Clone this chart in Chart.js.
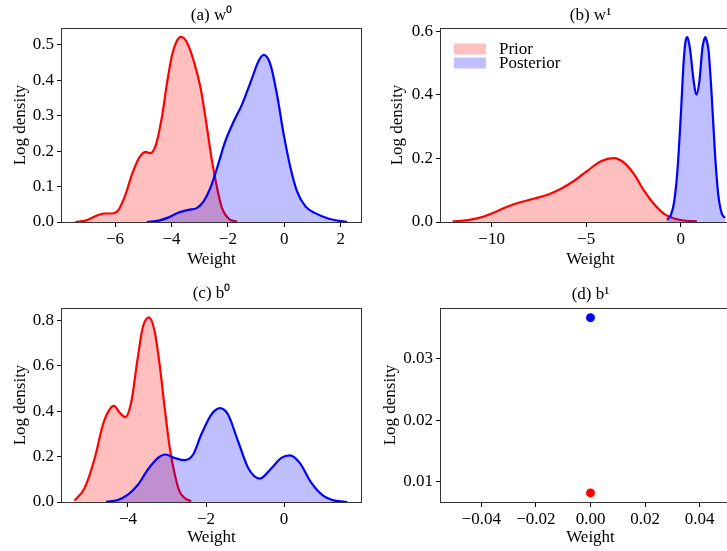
<!DOCTYPE html>
<html>
<head>
<meta charset="utf-8">
<script src="https://cdn.jsdelivr.net/npm/chart.js@4.4.0/dist/chart.umd.min.js"></script>
<style>
html, body { margin: 0; padding: 0; background: #fff; overflow: hidden; }
body { width: 727px; height: 551px; position: relative; }
canvas { position: absolute; }
</style>
</head>
<body>
<canvas id="panel_a" width="364" height="275" style="left:0px;top:0px"></canvas>
<canvas id="panel_b" width="400" height="275" style="left:364px;top:0px"></canvas>
<canvas id="panel_c" width="364" height="276" style="left:0px;top:275px"></canvas>
<canvas id="panel_d" width="400" height="276" style="left:364px;top:275px"></canvas>
<script>
// (a) w0
const aPriorX = [-7.41,-7.05,-6.70,-6.40,-6.11,-5.87,-5.63,-5.40,-5.16,-4.92,-4.75,-4.55,-4.33,-4.16,-3.98,-3.80,-3.66,-3.45,-3.21,-2.97,-2.74,-2.56,-2.38,-2.21,-1.97,-1.67];
const aPriorY = [0,0.004,0.016,0.024,0.024,0.035,0.077,0.134,0.179,0.198,0.194,0.218,0.300,0.390,0.470,0.512,0.522,0.506,0.454,0.379,0.266,0.171,0.096,0.040,0.009,0.001];
const aPostX = [-4.87,-4.45,-4.10,-3.74,-3.39,-3.09,-2.86,-2.62,-2.38,-2.09,-1.79,-1.50,-1.20,-0.91,-0.73,-0.49,-0.26,-0.02,0.22,0.45,0.75,1.10,1.58,2.23];
const aPostY = [0,0.004,0.013,0.027,0.034,0.040,0.058,0.096,0.153,0.228,0.284,0.331,0.393,0.454,0.471,0.444,0.360,0.247,0.153,0.087,0.044,0.025,0.009,0];
const aXTicks = [-6,-4,-2,0,2];
const aYTicks = [0,0.1,0.2,0.3,0.4,0.5];

// (b) w1
const bPriorX = [-12.06,-11.27,-10.56,-9.86,-9.15,-8.45,-7.74,-7.04,-6.33,-5.63,-4.92,-4.22,-3.54,-2.98,-2.45,-1.92,-1.39,-0.86,-0.34,0.28,0.86];
const bPriorY = [0.002,0.006,0.015,0.030,0.049,0.063,0.074,0.086,0.105,0.130,0.162,0.191,0.201,0.186,0.149,0.097,0.055,0.025,0.011,0.004,0.002];
const bPostX = [-0.72,-0.51,-0.34,-0.16,0.02,0.16,0.25,0.34,0.43,0.51,0.69,0.83,0.99,1.15,1.23,1.31,1.40,1.48,1.64,1.82,1.99,2.17,2.35];
const bPostY = [0.007,0.023,0.065,0.170,0.349,0.506,0.565,0.582,0.568,0.538,0.443,0.401,0.443,0.548,0.572,0.582,0.566,0.538,0.401,0.212,0.086,0.028,0.013];
const bXTicks = [-10,-5,0];
const bYTicks = [0,0.2,0.4,0.6];

// (c) b0
const cPriorX = [-5.37,-5.11,-4.85,-4.64,-4.47,-4.36,-4.21,-4.07,-3.91,-3.76,-3.62,-3.46,-3.32,-3.19,-3.06,-2.93,-2.80,-2.68,-2.55,-2.38];
const cPriorY = [0.006,0.062,0.194,0.342,0.408,0.423,0.393,0.374,0.445,0.622,0.769,0.813,0.754,0.607,0.415,0.239,0.121,0.047,0.018,0.003];
const cPostX = [-4.56,-4.26,-4.00,-3.74,-3.49,-3.23,-3.04,-2.80,-2.56,-2.33,-2.12,-1.86,-1.64,-1.44,-1.18,-0.92,-0.62,-0.32,-0.07,0.15,0.40,0.70,1.00,1.30,1.62];
const cPostY = [0.001,0.009,0.032,0.077,0.143,0.194,0.209,0.194,0.184,0.209,0.298,0.386,0.413,0.386,0.268,0.150,0.103,0.150,0.194,0.205,0.172,0.084,0.028,0.006,0];
const cXTicks = [-4,-2,0];
const cYTicks = [0,0.2,0.4,0.6,0.8];

// (d) b1 - single points
const dPriorX = [0];
const dPriorY = [0.0082];
const dPostX = [0];
const dPostY = [0.0366];
const dXTicks = [-0.04,-0.02,0,0.02,0.04];
const dYTicks = [0.01,0.02,0.03];

const seriesLabels = ["Prior", "Posterior"];
const lineColors = ["#ff0000", "#0000ff"];
const fillColors = ["rgba(255,0,0,0.25)", "rgba(0,0,255,0.25)"];

Chart.defaults.font.family = '"Liberation Serif", "Times New Roman", serif';
Chart.defaults.font.size = 17;
Chart.defaults.color = "#000";

function toPoints(xs, ys) {
  return xs.map((x, i) => ({ x: x, y: ys[i] }));
}

function fmt(v, dec) {
  const s = Math.abs(v).toFixed(dec);
  return v < -1e-12 ? "\u2212" + s : s;
}

// frame on all 4 sides, panel title and (optional) legend
const panelDecor = {
  id: "panelDecor",
  afterDraw(chart, args, opts) {
    const a = chart.chartArea;
    const ctx = chart.ctx;
    ctx.save();
    ctx.strokeStyle = "#333";
    ctx.lineWidth = 1;
    ctx.strokeRect(Math.round(a.left) - 0.5, Math.round(a.top) + 0.5,
      Math.round(a.right - a.left) + 1, Math.round(a.bottom - a.top));
    ctx.fillStyle = "#000";
    ctx.font = '17px "Liberation Serif", serif';
    ctx.textAlign = "center";
    ctx.textBaseline = "middle";
    ctx.fillText(opts.title, (a.left + a.right) / 2, opts.titleY);
    if (opts.legend) {
      ctx.textAlign = "left";
      seriesLabels.forEach((lab, i) => {
        const cy = a.top + 21 + i * 14;
        ctx.fillStyle = fillColors[i];
        ctx.fillRect(a.left + 13, cy - 5.5, 32, 11);
        ctx.fillStyle = "#000";
        ctx.fillText(lab, a.left + 58, cy + 1);
      });
    }
    ctx.restore();
  }
};

function makePanel(id, cfg) {
  const datasets = cfg.series.map((s, i) => {
    if (cfg.dots) {
      return {
        label: seriesLabels[i],
        data: toPoints(s[0], s[1]),
        pointRadius: 4.5,
        pointBackgroundColor: lineColors[i],
        pointBorderWidth: 0,
        showLine: false,
        order: 2 - i
      };
    }
    return {
      label: seriesLabels[i],
      data: toPoints(s[0], s[1]),
      borderColor: lineColors[i],
      backgroundColor: fillColors[i],
      borderWidth: 2.2,
      fill: "origin",
      pointRadius: 0,
      cubicInterpolationMode: "monotone",
      order: 2 - i
    };
  });

  return new Chart(document.getElementById(id).getContext("2d"), {
    type: cfg.dots ? "scatter" : "line",
    data: { datasets: datasets },
    plugins: [panelDecor],
    options: {
      responsive: false,
      animation: false,
      events: [],
      layout: { padding: { top: cfg.padTop, right: cfg.padRight, left: 0, bottom: 0 } },
      plugins: {
        legend: { display: false },
        tooltip: { enabled: false },
        panelDecor: { title: cfg.title, titleY: cfg.titleY, legend: !!cfg.legend }
      },
      scales: {
        x: {
          type: "linear",
          min: cfg.xMin,
          max: cfg.xMax,
          afterBuildTicks: s => { s.ticks = cfg.xTicks.map(v => ({ value: v })); },
          afterFit: s => { s.height = cfg.xHeight; },
          grid: { drawOnChartArea: false, drawTicks: true, tickLength: 5, color: "#000" },
          border: { display: false },
          ticks: { padding: 2, maxRotation: 0, autoSkip: false, callback: v => fmt(v, cfg.xDec) },
          title: { display: true, text: "Weight", padding: { top: 0, bottom: cfg.xTitlePad } }
        },
        y: {
          type: "linear",
          min: cfg.yMin,
          max: cfg.yMax,
          afterBuildTicks: s => { s.ticks = cfg.yTicks.map(v => ({ value: v })); },
          afterFit: s => { s.width = cfg.yWidth; },
          grid: { drawOnChartArea: false, drawTicks: true, tickLength: 5, color: "#000" },
          border: { display: false },
          ticks: { padding: 3, autoSkip: false, callback: v => fmt(v, cfg.yDec) },
          title: { display: true, text: "Log density", padding: { top: cfg.yTitlePad, bottom: 0 } }
        }
      }
    }
  });
}

makePanel("panel_a", {
  title: "(a) w\u2070", titleY: 16,
  series: [[aPriorX, aPriorY], [aPostX, aPostY]],
  xMin: -7.88, xMax: 2.72, yMin: 0, yMax: 0.547,
  xTicks: aXTicks, yTicks: aYTicks, xDec: 0, yDec: 1,
  padTop: 28, padRight: 3, yWidth: 62, xHeight: 53,
  xTitlePad: 5, yTitlePad: 10
});

makePanel("panel_b", {
  title: "(b) w\u00b9", titleY: 16, legend: true,
  series: [[bPriorX, bPriorY], [bPostX, bPostY]],
  xMin: -12.68, xMax: 3.14, yMin: 0, yMax: 0.611,
  xTicks: bXTicks, yTicks: bYTicks, xDec: 0, yDec: 1,
  padTop: 28, padRight: 24, yWidth: 77, xHeight: 53,
  xTitlePad: 5, yTitlePad: 23
});

makePanel("panel_c", {
  title: "(c) b\u2070", titleY: 19,
  series: [[cPriorX, cPriorY], [cPostX, cPostY]],
  xMin: -5.69, xMax: 1.97, yMin: 0, yMax: 0.854,
  xTicks: cXTicks, yTicks: cYTicks, xDec: 0, yDec: 1,
  padTop: 33, padRight: 3, yWidth: 62, xHeight: 49,
  xTitlePad: 3, yTitlePad: 10
});

makePanel("panel_d", {
  title: "(d) b\u00b9", titleY: 20, dots: true,
  series: [[dPriorX, dPriorY], [dPostX, dPostY]],
  xMin: -0.0548, xMax: 0.0548, yMin: 0.00673, yMax: 0.03816,
  xTicks: dXTicks, yTicks: dYTicks, xDec: 2, yDec: 2,
  padTop: 33, padRight: 24, yWidth: 77, xHeight: 49,
  xTitlePad: 3, yTitlePad: 16
});
</script>
</body>
</html>
